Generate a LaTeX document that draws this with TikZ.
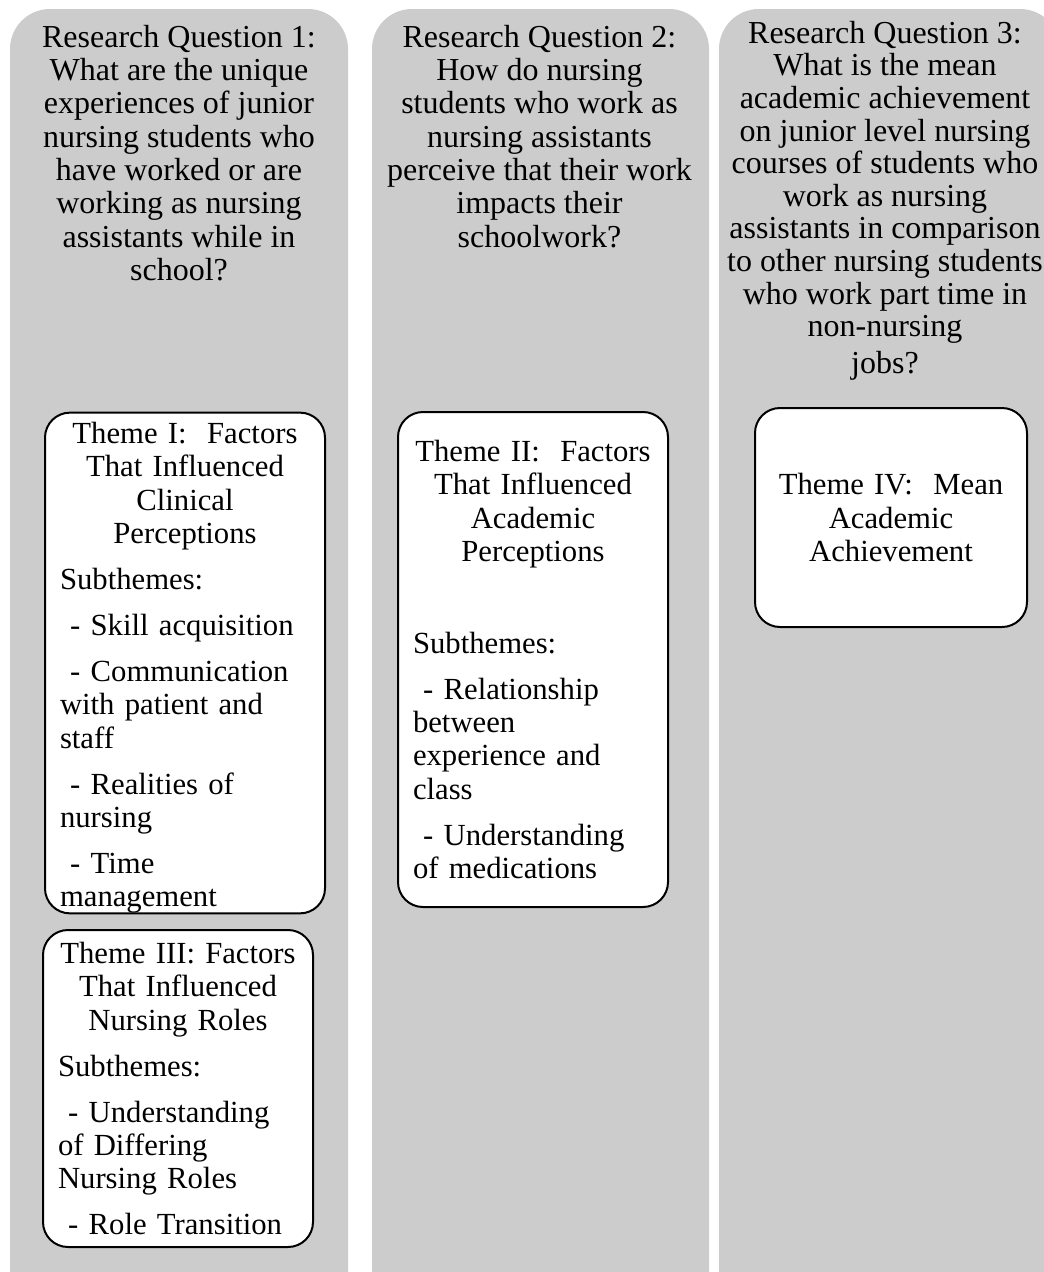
\documentclass[tikz,border=0pt]{standalone}
\usepackage{fontspec}
\setmainfont{Liberation Serif}
\usepackage{tikz}
\definecolor{colgray}{RGB}{204,204,204}
\tikzstyle{column} = [fill=colgray, rounded corners=40pt]
\tikzstyle{question} = [anchor=north, align=center, inner sep=0pt, font=\fontsize{32}{33.3}\selectfont]
\tikzstyle{theme} = [draw=black, line width=2pt, fill=white, rounded corners=25pt, inner xsep=15pt, inner ysep=0pt, font=\fontsize{30.7}{33.3}\selectfont, execute at begin node={\raggedright\setlength{\parindent}{0pt}\setlength{\parskip}{12.7pt}}]
\newcommand{\themehead}[1]{{\centering #1\par}}

\begin{document}
\begin{tikzpicture}[x=1pt,y=-1pt]
\useasboundingbox (0,0) rectangle (1044,1272);
\clip (0,0) rectangle (1044,1272);
\fill[column] (10,9) rectangle (348,1330);
\fill[column] (372,9) rectangle (709,1330);
\fill[column] (719,9) rectangle (1060,1330);

\node[question] (q1) at (179,24.8) {Research Question 1:\\What are the unique\\experiences of junior\\nursing students who\\have worked or are\\working as nursing\\assistants while in\\school?};
\node[question] (q2) at (539.5,24.8) {Research Question 2:\\How do nursing\\students who work as\\nursing assistants\\perceive that their work\\impacts their\\schoolwork?};
\node[question, font=\fontsize{32}{32.6}\selectfont] (q3) at (885,20.8) {Research Question 3:\\What is the mean\\academic achievement\\on junior level nursing\\courses of students who\\work as nursing\\assistants in comparison\\to other nursing students\\who work part time in\\non-nursing\\[4pt]jobs?};

\node[theme, text width=250pt, minimum height=500pt] (th1) at (185,663) {\themehead{\rule{0pt}{31pt}Theme I:\ \ Factors\\That Influenced\\Clinical\\Perceptions}
Subthemes:\par
\ - Skill acquisition\par
\ - Communication\\with patient and\\staff\par
\ - Realities of\\nursing\par
\ - Time\\management};
\node[theme, text width=240pt, minimum height=495pt] (th2) at (533,659.5) {\themehead{Theme II:\ \ Factors\\That Influenced\\Academic\\Perceptions}
\mbox{}\par
Subthemes:\par
\ - Relationship\\between\\experience and\\class\par
\ - Understanding\\of medications};
\node[theme, text width=240pt, minimum height=317pt] (th3) at (178,1088.5) {\themehead{Theme III: Factors\\That Influenced\\Nursing Roles}
Subthemes:\par
\ - Understanding\\of Differing\\Nursing Roles\par
\ - Role Transition};
\node[theme, text width=242pt, minimum height=219pt] (th4) at (891,517.5) {\themehead{Theme IV:\ \ Mean\\Academic\\Achievement}};
\end{tikzpicture}
\end{document}
